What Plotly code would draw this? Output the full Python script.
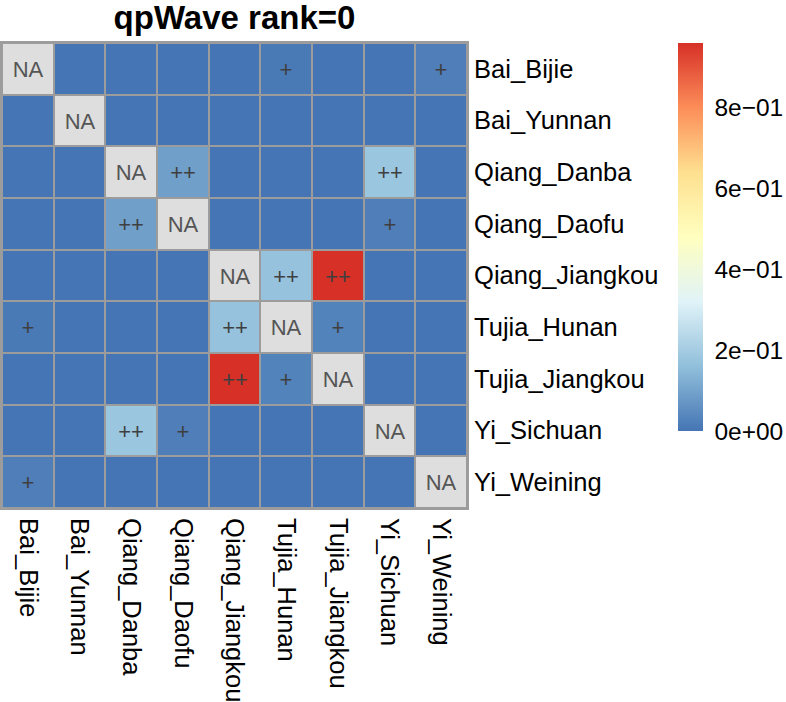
import plotly.graph_objects as go

pops = ["Bai_Bijie", "Bai_Yunnan", "Qiang_Danba", "Qiang_Daofu", "Qiang_Jiangkou",
        "Tujia_Hunan", "Tujia_Jiangkou", "Yi_Sichuan", "Yi_Weining"]

# p-values matrix (rows top->bottom, cols left->right); None = NA (diagonal)
row_bai_bijie      = [None, 0, 0, 0, 0, 0.01, 0, 0, 0.02]
row_bai_yunnan     = [0, None, 0, 0, 0, 0, 0, 0, 0]
row_qiang_danba    = [0, 0, None, 0.09, 0, 0, 0, 0.18, 0]
row_qiang_daofu    = [0, 0, 0.09, None, 0, 0, 0, 0.02, 0]
row_qiang_jiangkou = [0, 0, 0, 0, None, 0.17, 0.96, 0, 0]
row_tujia_hunan    = [0.01, 0, 0, 0, 0.17, None, 0.03, 0, 0]
row_tujia_jiangkou = [0, 0, 0, 0, 0.96, 0.03, None, 0, 0]
row_yi_sichuan     = [0, 0, 0.18, 0.02, 0, 0, 0, None, 0]
row_yi_weining     = [0.02, 0, 0, 0, 0, 0, 0, 0, None]

z = [row_bai_bijie, row_bai_yunnan, row_qiang_danba, row_qiang_daofu, row_qiang_jiangkou,
     row_tujia_hunan, row_tujia_jiangkou, row_yi_sichuan, row_yi_weining]

# significance marks
marks = [
    ["", "", "", "", "", "+", "", "", "+"],
    ["", "", "", "", "", "", "", "", ""],
    ["", "", "", "++", "", "", "", "++", ""],
    ["", "", "++", "", "", "", "", "+", ""],
    ["", "", "", "", "", "++", "++", "", ""],
    ["+", "", "", "", "++", "", "+", "", ""],
    ["", "", "", "", "++", "+", "", "", ""],
    ["", "", "++", "+", "", "", "", "", ""],
    ["+", "", "", "", "", "", "", "", ""],
]

tick_vals = [0, 0.2, 0.4, 0.6, 0.8]
tick_text = ["0e+00", "2e\u221201", "4e\u221201", "6e\u221201", "8e\u221201"]
zmax = 0.96

rdylbu_rev = ["#4575B4", "#91BFDB", "#E0F3F8", "#FFFFBF", "#FEE090", "#FC8D59", "#D73027"]
cscale = [[i / 6, c] for i, c in enumerate(rdylbu_rev)]

na_z = [[1 if v is None else None for v in row] for row in z]
na_text = [["NA" if v is None else "" for v in row] for row in z]

FONT = "Liberation Sans, Arial, Helvetica, sans-serif"

fig = go.Figure()
fig.add_trace(go.Heatmap(
    z=z, x=pops, y=pops, zmin=0, zmax=zmax, colorscale=cscale,
    xgap=2, ygap=2, text=marks, texttemplate="%{text}",
    textfont=dict(size=22, color="#3f3f3f", family=FONT),
    hoverinfo="skip",
    colorbar=dict(
        thickness=25, lenmode="pixels", len=388,
        x=(678 - 2) / 465, xanchor="left", xpad=0,
        y=(508 - 237) / 465, yanchor="middle", ypad=0,
        outlinewidth=0,
        tickvals=tick_vals, ticktext=tick_text,
        ticks="outside", ticklen=7, tickcolor="rgba(0,0,0,0)",
        tickfont=dict(size=24.5, color="#000000", family=FONT),
    ),
))
fig.add_trace(go.Heatmap(
    z=na_z, x=pops, y=pops, zmin=0, zmax=1,
    colorscale=[[0, "#DEDEDE"], [1, "#DEDEDE"]], showscale=False,
    xgap=2, ygap=2, text=na_text, texttemplate="%{text}",
    textfont=dict(size=22, color="#555555", family=FONT),
    hoverinfo="skip",
))

fig.update_layout(
    width=786, height=702,
    margin=dict(l=2, r=319, t=43, b=194, autoexpand=False),
    paper_bgcolor="white", plot_bgcolor="#9C9C9C",
    font=dict(family=FONT, color="#000000"),
    title=dict(text="<b>qpWave rank=0</b>", x=0.5, xref="paper",
               y=1 - 17 / 702, yref="container", yanchor="middle",
               font=dict(size=33, color="#000000", family=FONT)),
    xaxis=dict(tickangle=90, tickfont=dict(size=25.5), ticks="", showgrid=False,
               zeroline=False, showline=True, linecolor="#9C9C9C", linewidth=2, mirror=True,
               ticklabelstandoff=3, automargin=False),
    yaxis=dict(autorange="reversed", side="right", tickfont=dict(size=25.5), ticks="",
               showgrid=False, zeroline=False, showline=True, linecolor="#9C9C9C",
               linewidth=2, mirror=True, ticklabelstandoff=0, automargin=False),
)

fig.write_html("out.html", config={"displayModeBar": False},
               post_script="document.body.style.margin='0px';document.body.style.padding='0px';")
